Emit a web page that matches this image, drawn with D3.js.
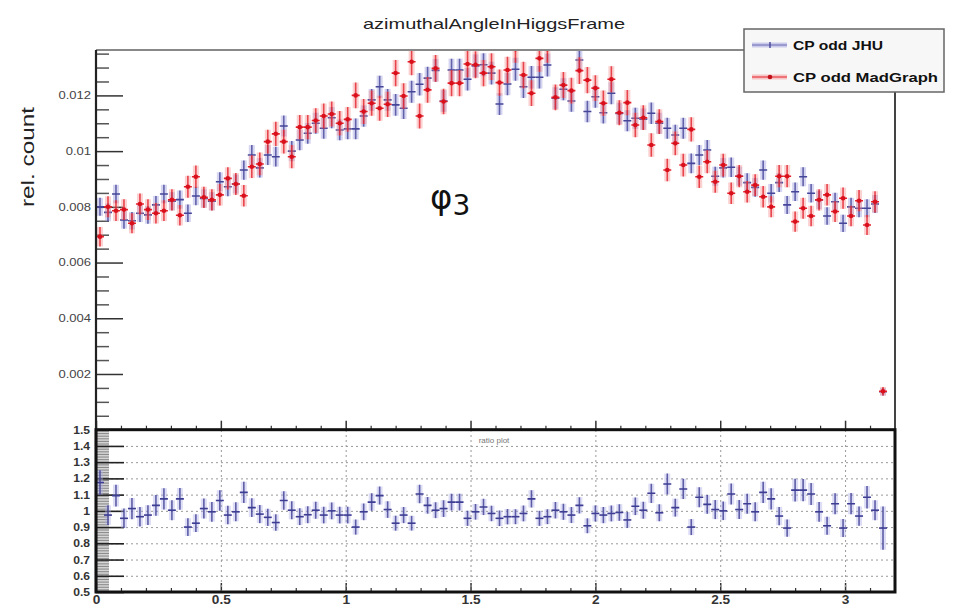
<!DOCTYPE html>
<html>
<head>
<meta charset="utf-8">
<script src="https://cdn.jsdelivr.net/npm/d3@7"></script>
<style>
  body { margin: 0; background: #fff; }
  svg { font-family: "Liberation Sans", Arial, sans-serif; }
  .grid line { stroke: #999; stroke-dasharray: 2,3; }
  .grid path { display: none; }
</style>
</head>
<body>
<div id="chart"></div>
<script>
var width = 953, height = 607,
    frame = { left: 96, right: 895, top: 50, split: 429.7, bottom: 592 },
    binWidth = 0.032;

// CP odd JHU (blue), one value per bin starting at 0
var jhu = [0.0080, 0.0078, 0.00846, 0.00753, 0.0075, 0.00777, 0.00771, 0.00807, 0.00846, 0.0082,
    0.00826, 0.00777, 0.00839, 0.0083, 0.0082, 0.0089, 0.00872, 0.00882, 0.00932, 0.00986,
    0.0094, 0.00986, 0.0098, 0.0109, 0.0100, 0.0104, 0.01064, 0.0110, 0.01082, 0.0112,
    0.01076, 0.0108, 0.0108, 0.01126, 0.01184, 0.01231, 0.01184, 0.01166, 0.01154, 0.01213,
    0.0124, 0.01262, 0.0129, 0.0118, 0.01291, 0.01291, 0.01258, 0.01306, 0.0131, 0.0128,
    0.01169, 0.01241, 0.01294, 0.01231, 0.01265, 0.01265, 0.01309, 0.0119, 0.01222, 0.0118,
    0.01327, 0.01142, 0.01195, 0.01138, 0.01208, 0.01135, 0.01109, 0.01118, 0.01115, 0.01136,
    0.0110, 0.01082, 0.01058, 0.01082, 0.00956, 0.00986, 0.01004, 0.0091, 0.0094, 0.00942,
    0.0091, 0.00887, 0.0087, 0.00932, 0.00849, 0.00887, 0.00807, 0.00854, 0.00908, 0.00849,
    0.00825, 0.00767, 0.00818, 0.00741, 0.008, 0.00795, 0.00795, 0.0081, 0.00136];

// CP odd MadGraph (red)
var madgraph = [0.00693, 0.0080, 0.00786, 0.0079, 0.00741, 0.0081, 0.0079, 0.00777, 0.00786, 0.00825,
    0.0077, 0.00872, 0.00908, 0.00834, 0.00825, 0.00843, 0.00902, 0.00882, 0.0084, 0.00944,
    0.00954, 0.01034, 0.01062, 0.01034, 0.0098, 0.01086, 0.01086, 0.0111, 0.01126, 0.01133,
    0.011, 0.01114, 0.0120, 0.01142, 0.01172, 0.01154, 0.01168, 0.0128, 0.01198, 0.01321,
    0.01126, 0.0122, 0.01297, 0.01178, 0.01244, 0.01244, 0.01313, 0.0131, 0.0128, 0.01303,
    0.01246, 0.01291, 0.01366, 0.01273, 0.01208, 0.01333, 0.01366, 0.01193, 0.01237, 0.01217,
    0.01289, 0.01255, 0.01226, 0.01172, 0.01258, 0.01138, 0.01174, 0.01094, 0.0112, 0.01022,
    0.01106, 0.00932, 0.01028, 0.0095, 0.01078, 0.00908, 0.00962, 0.0089, 0.0095, 0.00849,
    0.0091, 0.00854, 0.00878, 0.00836, 0.008, 0.0091, 0.0091, 0.00747, 0.00795, 0.00767,
    0.00825, 0.00843, 0.00783, 0.00831, 0.00767, 0.00822, 0.00735, 0.00818, 0.00138];

// ratio plot (JHU / MadGraph)
var ratio = [1.175, 0.974, 1.094, 0.954, 1.014, 0.964, 0.974, 1.034, 1.074, 1.004,
    1.074, 0.90, 0.924, 1.014, 0.994, 1.064, 0.974, 0.994, 1.114, 1.02,
    0.98, 0.96, 0.928, 1.064, 1.004, 0.964, 0.976, 1.004, 0.974, 1.0,
    0.974, 0.974, 0.90, 0.994, 1.054, 1.094, 1.008, 0.924, 0.974, 0.924,
    1.104, 1.034, 1.004, 1.014, 1.054, 1.054, 0.954, 0.994, 1.024, 0.984,
    0.954, 0.964, 0.964, 0.984, 1.074, 0.954, 0.964, 1.004, 0.994, 0.974,
    1.034, 0.908, 0.984, 0.974, 0.984, 0.99, 0.944, 1.028, 1.004, 1.108,
    0.988, 1.165, 1.02, 1.135, 0.90, 1.084, 1.04, 1.008, 1.0, 1.104,
    1.008, 1.044, 0.994, 1.114, 1.074, 0.968, 0.894, 1.128, 1.128, 1.104,
    0.994, 0.908, 1.044, 0.894, 1.044, 0.968, 1.084, 1.004, 0.894];

var yMajor = [0.002, 0.004, 0.006, 0.008, 0.010, 0.012];
var yLabels = ["0.002", "0.004", "0.006", "0.008", "0.01", "0.012"];
var ratioTicks = [0.5, 0.6, 0.7, 0.8, 0.9, 1, 1.1, 1.2, 1.3, 1.4, 1.5];
var xMajor = [0, 0.5, 1, 1.5, 2, 2.5, 3];
var xLabels = ["0", "0.5", "1", "1.5", "2", "2.5", "3"];
var legendNames = ["CP odd JHU", "CP odd MadGraph"];

// stat. error at a bin content of 0.01, scaled with sqrt of the content
var jhuErr01 = 0.00036, mgErr01 = 0.00042;

var x = d3.scaleLinear().domain([0, 3.2]).range([frame.left, frame.right]);
var y = d3.scaleLinear().domain([0, 0.01363]).range([frame.split, frame.top]);
var yr = d3.scaleLinear().domain([0.5, 1.5]).range([frame.bottom, frame.split]);

var svg = d3.select("#chart").append("svg")
    .attr("width", width)
    .attr("height", height);

var defs = svg.append("defs");
defs.append("clipPath").attr("id", "topclip")
  .append("rect").attr("x", frame.left).attr("y", frame.top)
  .attr("width", frame.right - frame.left).attr("height", frame.split - frame.top);
defs.append("clipPath").attr("id", "botclip")
  .append("rect").attr("x", frame.left).attr("y", frame.split)
  .attr("width", frame.right - frame.left).attr("height", frame.bottom - frame.split);

function stretch(sel, f) {
  sel.each(function() {
    this.setAttribute("textLength", this.getComputedTextLength() * f);
    this.setAttribute("lengthAdjust", "spacingAndGlyphs");
  });
}

// title
svg.append("text")
  .attr("x", 494).attr("y", 29)
  .attr("text-anchor", "middle")
  .style("font-size", "15px")
  .style("fill", "#222")
  .attr("textLength", 262)
  .attr("lengthAdjust", "spacingAndGlyphs")
  .text("azimuthalAngleInHiggsFrame");

// y label
svg.append("text")
  .attr("transform", "translate(34,157) rotate(-90)")
  .attr("text-anchor", "middle")
  .style("font-size", "19px")
  .style("fill", "#222")
  .attr("textLength", 100)
  .attr("lengthAdjust", "spacingAndGlyphs")
  .text("rel. count");

// ---- top panel axes ----
var yMinor = d3.range(0.0005, 0.0136, 0.0005).filter(function(d) { return Math.round(d * 10000) % 20 != 0; });
svg.append("g").attr("transform", "translate(" + frame.left + ",0)")
  .call(d3.axisRight(y).tickValues(yMinor).tickSize(13).tickFormat(""))
  .call(function(g) { g.select(".domain").remove(); g.selectAll("line").attr("stroke", "#555").attr("stroke-width", 1.5); });
svg.append("g").attr("transform", "translate(" + frame.left + ",0)")
  .call(d3.axisRight(y).tickValues(yMajor).tickSize(27).tickFormat(""))
  .call(function(g) { g.select(".domain").remove(); g.selectAll("line").attr("stroke", "#333").attr("stroke-width", 1.5); });
var yl = svg.append("g").attr("transform", "translate(" + (frame.left - 5) + ",0)")
  .call(d3.axisLeft(y).tickValues(yMajor).tickSize(0).tickFormat(function(d, i) { return yLabels[i]; }));
yl.select(".domain").remove();
yl.selectAll("text").style("font-size", "10px").style("fill", "#444").attr("x", 0);
stretch(yl.selectAll("text"), 1.3);

var xMinor = d3.range(0.1, 3.2, 0.1).filter(function(d) { return Math.abs(d * 2 - Math.round(d * 2)) > 0.01; });
[frame.split, frame.bottom].forEach(function(yy) {
  svg.append("g").attr("transform", "translate(0," + yy + ")")
    .call(d3.axisTop(x).tickValues(xMinor).tickSize(4).tickFormat(""))
    .call(function(g) { g.select(".domain").remove(); g.selectAll("line").attr("stroke", "#333").attr("stroke-width", 1.2); });
  svg.append("g").attr("transform", "translate(0," + yy + ")")
    .call(d3.axisTop(x).tickValues(xMajor).tickSize(9).tickFormat(""))
    .call(function(g) { g.select(".domain").remove(); g.selectAll("line").attr("stroke", "#333").attr("stroke-width", 1.5); });
});

// ---- data drawing ----
var centers = d3.range(jhu.length).map(function(i) { return (i + 0.5) * binWidth; });

function drawSeries(parent, vals, errs, ys, band, line, dot) {
  var g = parent.append("g");
  var pts = g.selectAll("g").data(vals).enter().append("g");
  pts.append("rect")
    .attr("x", function(d, i) { return x(centers[i]) - 3; })
    .attr("width", 6)
    .attr("y", function(d, i) { return ys(d + errs[i]); })
    .attr("height", function(d, i) { return ys(d - errs[i]) - ys(d + errs[i]); })
    .attr("fill", band);
  pts.append("line")
    .attr("x1", function(d, i) { return x(centers[i]); })
    .attr("x2", function(d, i) { return x(centers[i]); })
    .attr("y1", function(d, i) { return ys(d + errs[i]); })
    .attr("y2", function(d, i) { return ys(d - errs[i]); })
    .attr("stroke", line).attr("stroke-width", 1.6).attr("stroke-opacity", 0.8);
  pts.append("line")
    .attr("x1", function(d, i) { return x(centers[i] - binWidth / 2); })
    .attr("x2", function(d, i) { return x(centers[i] + binWidth / 2); })
    .attr("y1", function(d) { return ys(d); })
    .attr("y2", function(d) { return ys(d); })
    .attr("stroke", line).attr("stroke-width", 1.6);
  if (dot) {
    pts.append("circle")
      .attr("cx", function(d, i) { return x(centers[i]); })
      .attr("cy", function(d) { return ys(d); })
      .attr("r", 2.3)
      .attr("fill", dot);
  }
}

var jhuErr = jhu.map(function(v) { return jhuErr01 * Math.sqrt(v / 0.01); });
var mgErr = madgraph.map(function(v) { return mgErr01 * Math.sqrt(v / 0.01); });
var ratioErr = ratio.map(function(r, i) {
  return r * Math.sqrt(Math.pow(jhuErr[i] / jhu[i], 2) + Math.pow(mgErr[i] / madgraph[i], 2));
});

var topData = svg.append("g").attr("clip-path", "url(#topclip)");
drawSeries(topData, jhu, jhuErr, y, "rgba(150,150,220,0.4)", "#45459a", null);
drawSeries(topData, madgraph, mgErr, y, "rgba(245,140,140,0.4)", "#e4212b", "#d9101c");

// phi_3 annotation
var phi = svg.append("text")
  .attr("x", 430).attr("y", 209)
  .style("font-family", "'DejaVu Sans', sans-serif")
  .style("font-size", "34px")
  .style("fill", "#111")
  .text("φ");
phi.append("tspan").attr("dy", 6).style("font-size", "28px").text("3");

// ---- ratio panel ----
svg.append("g").attr("class", "grid")
  .attr("transform", "translate(" + frame.left + ",0)")
  .call(d3.axisLeft(yr).tickValues(ratioTicks.slice(1, -1)).tickSize(-(frame.right - frame.left)).tickFormat(""));
svg.append("g").attr("class", "grid")
  .attr("transform", "translate(0," + frame.bottom + ")")
  .call(d3.axisBottom(x).tickValues(xMajor.slice(1)).tickSize(-(frame.bottom - frame.split)).tickFormat(""));

svg.append("text")
  .attr("x", 494).attr("y", 443)
  .attr("text-anchor", "middle")
  .style("font-size", "8px").style("fill", "#777")
  .text("ratio plot");

svg.append("g").attr("transform", "translate(" + frame.left + ",0)")
  .call(d3.axisRight(yr).tickValues(d3.range(0.5, 1.5, 0.01)).tickSize(13).tickFormat(""))
  .call(function(g) { g.select(".domain").remove(); g.selectAll("line").attr("stroke", "#888").attr("stroke-width", 1); });
svg.append("g").attr("transform", "translate(" + frame.left + ",0)")
  .call(d3.axisRight(yr).tickValues(ratioTicks).tickSize(28).tickFormat(""))
  .call(function(g) { g.select(".domain").remove(); g.selectAll("line").attr("stroke", "#222").attr("stroke-width", 1.6); });
var rl = svg.append("g").attr("transform", "translate(" + (frame.left - 6) + ",0)")
  .call(d3.axisLeft(yr).tickValues(ratioTicks).tickSize(0).tickFormat(d3.format("")));
rl.select(".domain").remove();
rl.selectAll("text").style("font-size", "11px").style("font-weight", "bold").style("fill", "#333").attr("x", 0);
stretch(rl.selectAll("text"), 1.1);

var xl = svg.append("g").attr("transform", "translate(0," + frame.bottom + ")")
  .call(d3.axisBottom(x).tickValues(xMajor).tickSize(0).tickPadding(3).tickFormat(function(d, i) { return xLabels[i]; }));
xl.select(".domain").remove();
xl.selectAll("text").style("font-size", "13px").style("font-weight", "bold").style("fill", "#333");
stretch(xl.selectAll("text"), 1.05);

var botData = svg.append("g").attr("clip-path", "url(#botclip)");
drawSeries(botData, ratio, ratioErr, yr, "rgba(170,170,230,0.4)", "#3d3d94", null);

// ---- frames ----
svg.append("line").attr("x1", frame.left).attr("x2", frame.right).attr("y1", frame.top).attr("y2", frame.top)
  .attr("stroke", "#888").attr("stroke-width", 2);
svg.append("line").attr("x1", frame.left).attr("x2", frame.left).attr("y1", frame.top).attr("y2", frame.bottom)
  .attr("stroke", "#222").attr("stroke-width", 2.2);
svg.append("line").attr("x1", frame.right).attr("x2", frame.right).attr("y1", frame.top).attr("y2", frame.bottom)
  .attr("stroke", "#444").attr("stroke-width", 2);
svg.append("rect").attr("x", frame.left).attr("y", frame.split)
  .attr("width", frame.right - frame.left).attr("height", frame.bottom - frame.split)
  .attr("fill", "none").attr("stroke", "#111").attr("stroke-width", 3);

// ---- legend ----
var legend = svg.append("g");
legend.append("rect")
  .attr("x", 744).attr("y", 29).attr("width", 200).attr("height", 63)
  .attr("fill", "#f7f7f7").attr("stroke", "#666").attr("stroke-width", 1.5);
var entries = legend.selectAll(".entry").data(legendNames).enter().append("g")
  .attr("transform", function(d, i) { return "translate(0," + (45 + i * 32) + ")"; });
entries.append("rect").attr("x", 752).attr("y", -2.5).attr("width", 35).attr("height", 5)
  .attr("fill", function(d, i) { return i ? "rgba(245,150,150,0.5)" : "rgba(160,160,225,0.5)"; });
entries.append("line").attr("x1", 752).attr("x2", 787).attr("y1", 0).attr("y2", 0)
  .attr("stroke", function(d, i) { return i ? "#e4212b" : "#6a6ab0"; }).attr("stroke-width", 1.2);
entries.filter(function(d, i) { return i == 0; }).append("line")
  .attr("x1", 770).attr("x2", 770).attr("y1", -3).attr("y2", 3).attr("stroke", "#45459a").attr("stroke-width", 1.4);
entries.filter(function(d, i) { return i == 1; }).append("circle")
  .attr("cx", 770).attr("cy", 0).attr("r", 2.3).attr("fill", "#c0101a");
entries.append("text")
  .attr("x", 793).attr("y", 5)
  .style("font-size", "13px").style("font-weight", "bold").style("fill", "#111")
  .attr("textLength", function(d, i) { return i ? 145 : 90; })
  .attr("lengthAdjust", "spacingAndGlyphs")
  .text(function(d) { return d; });
</script>
</body>
</html>
